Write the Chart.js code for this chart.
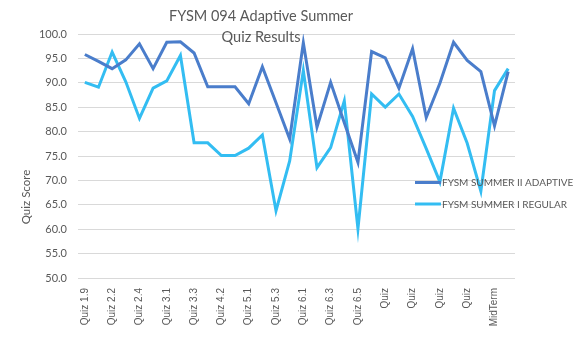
<!DOCTYPE html>
<html>
<head>
<meta charset="utf-8">
<script src="https://cdn.jsdelivr.net/npm/chart.js@4.4.1/dist/chart.umd.min.js"></script>
<style>
  body { margin: 0; background: #fff; }
</style>
</head>
<body>
<canvas id="quizChart" width="580" height="344"></canvas>
<script>
const quizLabels = [
  'Quiz 1.9', 'Quiz 2.1', 'Quiz 2.2', 'Quiz 2.3', 'Quiz 2.4', 'Quiz 2.5',
  'Quiz 3.1', 'Quiz 3.2', 'Quiz 3.3', 'Quiz 4.1', 'Quiz 4.2', 'Quiz 4.3',
  'Quiz 5.1', 'Quiz 5.2', 'Quiz 5.3', 'Quiz 5.4', 'Quiz 6.1', 'Quiz 6.2',
  'Quiz 6.3', 'Quiz 6.4', 'Quiz 6.5', 'Quiz', 'Quiz', 'Quiz', 'Quiz', 'Quiz',
  'Quiz', 'Quiz', 'Quiz', 'Quiz', 'MidTerm', 'Quiz'
];
const adaptiveScores = [
  95.8, 94.4, 92.9, 94.7, 98.0, 92.9, 98.3, 98.4, 96.1, 89.2, 89.2, 89.2,
  85.7, 93.3, 85.9, 78.5, 98.2, 80.9, 90.1, 81.8, 73.7, 96.4, 95.1, 88.9,
  97.0, 82.9, 89.9, 98.3, 94.6, 92.3, 81.2, 92.3
];
const regularScores = [
  90.1, 89.1, 96.3, 90.2, 82.7, 88.9, 90.4, 95.6, 77.7, 77.7, 75.1, 75.1,
  76.6, 79.3, 63.8, 74.0, 92.5, 72.6, 76.7, 86.3, 60.1, 87.7, 85.0, 87.7,
  83.1, 76.5, 69.7, 84.8, 77.6, 67.8, 88.4, 92.9
];
const titleLines = ['FYSM 094 Adaptive Summer', 'Quiz Results'];

const textGray = '#595959';
const fontMain = 'Lato, "Open Sans", sans-serif';

// title, rotated axis caption and the legend sit on top of the plot
const overlayText = {
  id: 'overlayText',
  afterDraw(chart) {
    const c = chart.ctx;
    c.save();
    c.fillStyle = textGray;
    c.textAlign = 'center';
    c.textBaseline = 'middle';
    c.font = '14.5px ' + fontMain;
    c.fillText(titleLines[0], 261, 16);
    c.fillText(titleLines[1], 261, 37);

    c.save();
    c.translate(26, 197);
    c.rotate(-Math.PI / 2);
    c.font = '11.5px ' + fontMain;
    c.fillText('Quiz Score', 0, 0);
    c.restore();

    c.textAlign = 'left';
    c.font = '10px ' + fontMain;
    chart.data.datasets.forEach((ds, i) => {
      const y = 182.5 + i * 21.5;
      c.strokeStyle = ds.borderColor;
      c.lineWidth = 3;
      c.beginPath();
      c.moveTo(415, y);
      c.lineTo(441, y);
      c.stroke();
      c.fillText(ds.label, 442, y + 0.5);
    });
    c.restore();
  }
};

new Chart(document.getElementById('quizChart'), {
  type: 'line',
  data: {
    labels: quizLabels,
    datasets: [
      {
        label: 'FYSM SUMMER II ADAPTIVE',
        data: adaptiveScores,
        borderColor: '#4a7dcb',
        borderWidth: 3,
        pointRadius: 0,
        tension: 0
      },
      {
        label: 'FYSM SUMMER I REGULAR',
        data: regularScores,
        borderColor: '#33bdf2',
        borderWidth: 3,
        pointRadius: 0,
        tension: 0
      }
    ]
  },
  options: {
    responsive: false,
    animation: false,
    layout: { padding: { top: 34, right: 65, left: 0, bottom: 0 } },
    plugins: {
      legend: { display: false },
      title: { display: false },
      tooltip: { enabled: false }
    },
    scales: {
      x: {
        offset: true,
        afterFit: (s) => { s.height = 66; },
        grid: { display: false, drawTicks: false },
        border: { display: false },
        ticks: {
          autoSkip: false,
          maxRotation: 90,
          minRotation: 90,
          padding: 10,
          color: textGray,
          font: { family: '"Liberation Sans Narrow", "Liberation Sans", sans-serif', size: 10 },
          callback: function (val, i) {
            return i % 2 === 0 ? this.getLabelForValue(val) : '';
          }
        }
      },
      y: {
        min: 50,
        max: 100,
        afterFit: (s) => { s.width = 78; },
        grid: { color: '#d9d9d9', lineWidth: 1, drawTicks: false },
        border: { display: false },
        ticks: {
          stepSize: 5,
          padding: 11,
          color: textGray,
          font: { family: fontMain, size: 11 },
          callback: (v) => v.toFixed(1)
        }
      }
    }
  },
  plugins: [overlayText]
});
</script>
</body>
</html>
